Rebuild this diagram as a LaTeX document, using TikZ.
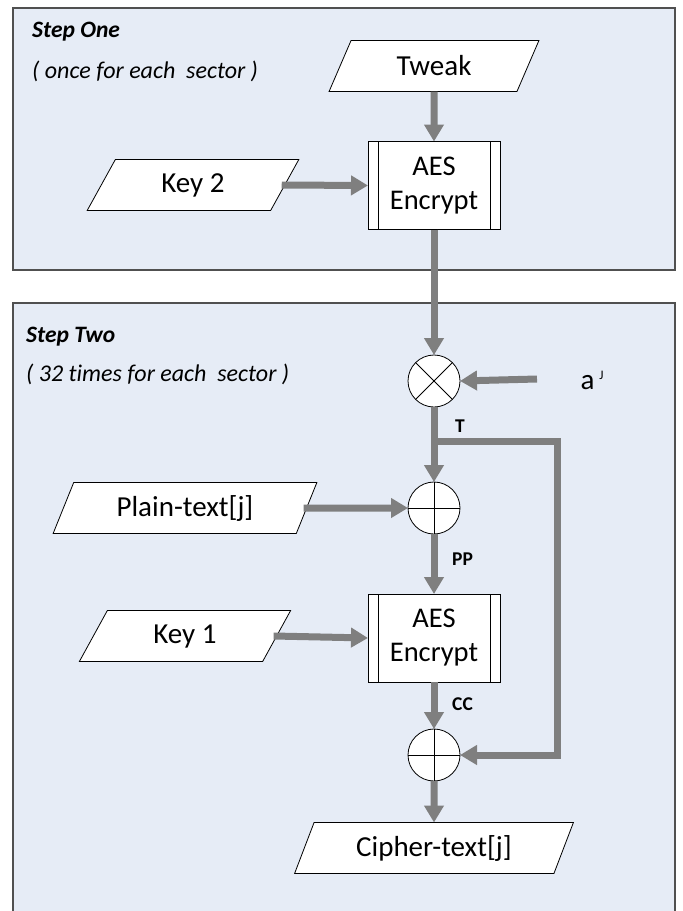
\documentclass[tikz,border=0pt]{standalone}
\usepackage{fontspec}
\setmainfont{Carlito}[Ligatures=NoCommon]
\usetikzlibrary{arrows.meta,shapes.geometric,calc}
\definecolor{panel}{RGB}{230,236,246}
\definecolor{flow}{RGB}{127,127,127}
\definecolor{frame}{RGB}{80,80,80}
\begin{document}
\begin{tikzpicture}[x=1pt,y=-1pt,
 panelbox/.style={draw=frame,line width=1.1pt,fill=panel},
 io/.style={trapezium,trapezium stretches=true,trapezium left angle=64,trapezium right angle=116,draw=black,line width=0.8pt,fill=white,minimum height=51pt,inner sep=0pt,outer sep=0pt,font=\fontsize{29}{31}\selectfont},
 proc/.style={rectangle,draw=black,line width=0.8pt,fill=white,minimum width=132pt,minimum height=88pt,inner sep=0pt,outer sep=0pt,align=center,font=\fontsize{28.5}{34}\selectfont},
 opnode/.style={circle,draw=black,line width=0.8pt,fill=white,minimum size=52pt,inner sep=0pt,outer sep=0pt},
 flowarrow/.style={draw=flow,line width=7pt,-{Triangle[width=19pt,length=17pt]}},
 title/.style={anchor=west,inner sep=0pt,font=\fontsize{23.5}{26}\selectfont\bfseries\itshape},
 note/.style={anchor=west,inner sep=0pt,font=\fontsize{24}{26}\selectfont\itshape},
 sig/.style={anchor=west,inner sep=0pt,font=\fontsize{19.5}{21}\selectfont\bfseries},
 plain/.style={inner sep=0pt,font=\fontsize{29}{31}\selectfont}]
\useasboundingbox (0,0) rectangle (683,911);
\fill[white] (0,0) rectangle (683,911);
\clip (0,0) rectangle (683,911);

% panels
\path[panelbox] (13,8) rectangle (675,270);
\path[panelbox] (13,303) rectangle (675,940);

\node[title] (s1title) at (32,32) {Step One};
\node[note] (s1note) at (32,71) {( once for each\ \ sector )};
\node[title] (s2title) at (26,337) {Step Two};
\node[note] (s2note) at (26,374) {( 32 times for each\ \ sector )};

% nodes
\node[io,minimum width=211pt] (tweak) at (434,66) {Tweak};
\node[io,minimum width=212pt] (key2) at (193,185) {Key 2};
\node[proc] (aes1) at (434,185.5) {AES\\Encrypt};
\node[opnode] (otimes) at (434,381) {};
\node[plain] (aj) at (592,380) {a\,\raisebox{10pt}{\fontsize{13}{13}\selectfont J}};
\coordinate (ajin) at (537,379);
\node[io,minimum width=264pt] (plaintext) at (185,508) {Plain-text[j]};
\node[opnode] (oplus1) at (434,508) {};
\node[io,minimum width=212pt] (key1) at (185,636) {Key 1};
\node[proc] (aes2) at (434,638) {AES\\Encrypt};
\node[opnode] (oplus2) at (434,755) {};
\node[io,minimum width=279pt] (cipher) at (434,848) {Cipher-text[j]};

% inner bars of process boxes
\foreach \b in {aes1,aes2}{
  \draw[line width=0.8pt] ([xshift=10pt]\b.north west) -- ([xshift=10pt]\b.south west);
  \draw[line width=0.8pt] ([xshift=-10pt]\b.north east) -- ([xshift=-10pt]\b.south east);
}
% operator symbols
\draw[line width=0.8pt] (otimes.north west) -- (otimes.south east) (otimes.north east) -- (otimes.south west);
\foreach \o in {oplus1,oplus2}{
  \draw[line width=0.8pt] (\o.north) -- (\o.south) (\o.west) -- (\o.east);
}

% connectors
\draw[flowarrow] (tweak.south) -- (aes1.north);
\draw[flowarrow] ([xshift=-3pt]key2.east) -- (aes1.west);
\draw[flowarrow] (aes1.south) -- (otimes.north);
\draw[flowarrow] (ajin) -- (otimes.east);
\draw[flowarrow] (otimes.south) -- (oplus1.north);
\coordinate (tap) at (434,441);
\coordinate (bend) at (557,441);
\draw[flowarrow] (tap) -- (bend) |- (oplus2.east);
\draw[flowarrow] ([xshift=-3pt]plaintext.east) -- (oplus1.west);
\draw[flowarrow] (oplus1.south) -- (aes2.north);
\draw[flowarrow] ([xshift=-3pt]key1.east) -- (aes2.west);
\draw[flowarrow] (aes2.south) -- (oplus2.north);
\draw[flowarrow] (oplus2.south) -- (cipher.north);

% signal labels
\node[sig] (tlabel) at (455,426) {T};
\node[sig] (pplabel) at (452,559) {PP};
\node[sig] (cclabel) at (452,704) {CC};
\end{tikzpicture}
\end{document}
